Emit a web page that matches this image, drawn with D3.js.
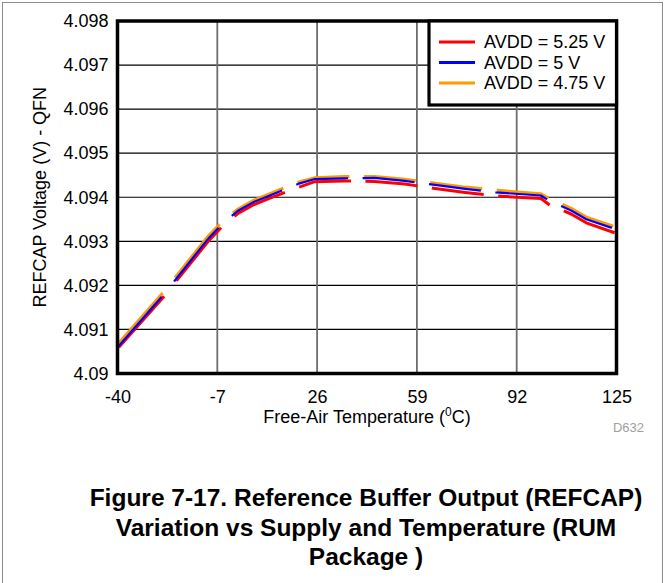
<!DOCTYPE html>
<html>
<head>
<meta charset="utf-8">
<script src="https://cdn.jsdelivr.net/npm/d3@7/dist/d3.min.js"></script>
<style>
  html, body { margin: 0; padding: 0; background: #fff; }
  svg { display: block; }
  text { font-family: "Liberation Sans", Arial, Helvetica, sans-serif; }
</style>
</head>
<body>
<svg id="chart" width="665" height="583"></svg>
<script>
// ---- data ----
const temps = [-40, -25, -10, -5, 0, 5, 10, 15, 20, 25, 35, 45, 55, 65, 75, 85, 100, 103, 110, 115, 125];
const avdd525 = [4.09056, 4.09172, 4.09300, 4.09336, 4.09364, 4.09383, 4.09397, 4.09410, 4.09423, 4.09435, 4.09437, 4.09436, 4.09430, 4.09420, 4.09411, 4.09403, 4.09397, 4.09382, 4.09362, 4.09342, 4.09318];
const avdd500 = [4.09059, 4.09177, 4.09306, 4.09342, 4.09370, 4.09389, 4.09403, 4.09417, 4.09431, 4.09441, 4.09443, 4.09444, 4.09437, 4.09428, 4.09419, 4.09411, 4.09404, 4.09391, 4.09370, 4.09350, 4.09327];
const avdd475 = [4.09066, 4.09183, 4.09312, 4.09347, 4.09374, 4.09393, 4.09407, 4.09421, 4.09435, 4.09444, 4.09447, 4.09447, 4.09441, 4.09432, 4.09423, 4.09416, 4.09408, 4.09396, 4.09375, 4.09355, 4.09332];
const seriesNames = ["AVDD = 5.25 V", "AVDD = 5 V", "AVDD = 4.75 V"];
const seriesColors = ["#ff0000", "#0000ff", "#ff9900"];
const xTicks = [-40, -7, 26, 59, 92, 125];
const xTickLabels = ["-40", "-7", "26", "59", "92", "125"];
const yTicks = [4.090, 4.091, 4.092, 4.093, 4.094, 4.095, 4.096, 4.097, 4.098];
const yTickLabels = ["4.09", "4.091", "4.092", "4.093", "4.094", "4.095", "4.096", "4.097", "4.098"];
const xTitle = "Free-Air Temperature (";
const yTitle = "REFCAP Voltage (V) - QFN";
const captionLines = ["Figure 7-17. Reference Buffer Output (REFCAP)", "Variation vs Supply and Temperature (RUM", "Package )"];
const figId = "D632";

// ---- layout ----
const L = 117.5, R = 616.5, T = 21, B = 373.5;
const svg = d3.select("#chart");
const x = d3.scaleLinear().domain([-40, 125]).range([L, R]);
const y = d3.scaleLinear().domain([4.090, 4.098]).range([B, T]);

// outer frame
svg.append("rect").attr("x", 2.5).attr("y", 2.5).attr("width", 660).attr("height", 640)
  .attr("fill", "none").attr("stroke", "#8c8c8c").attr("stroke-width", 1);

// gridlines
svg.append("g").selectAll("line").data(yTicks).join("line")
  .attr("x1", L).attr("x2", R).attr("y1", d => y(d)).attr("y2", d => y(d))
  .attr("stroke", "#000").attr("stroke-width", 1.2);
svg.append("g").selectAll("line").data(xTicks).join("line")
  .attr("y1", T).attr("y2", B).attr("x1", d => x(d)).attr("x2", d => x(d))
  .attr("stroke", "#6e6e6e").attr("stroke-width", 1.8);

// axes (labels only)
const yAxis = d3.axisLeft(y).tickValues(yTicks).tickSize(0).tickPadding(9)
  .tickFormat((d, i) => yTickLabels[i]);
const gy = svg.append("g").attr("transform", `translate(${L},0)`).call(yAxis);
gy.select(".domain").remove();
gy.selectAll("text").attr("font-size", 18).attr("fill", "#000")
  .style("font-family", '"Liberation Sans", Arial, sans-serif');

const xAxis = d3.axisBottom(x).tickValues(xTicks).tickSize(0).tickPadding(17)
  .tickFormat((d, i) => xTickLabels[i]);
const gx = svg.append("g").attr("transform", `translate(0,${B})`).call(xAxis);
gx.select(".domain").remove();
gx.selectAll("text").attr("font-size", 18).attr("fill", "#000")
  .style("font-family", '"Liberation Sans", Arial, sans-serif');

// ---- dashed series ----
function dashify(pts, dash, gap, k, phase) {
  const out = [];
  const period = dash + gap;
  let pos = ((phase % period) + period) % period;
  let cur = null;
  for (let i = 0; i < pts.length - 1; i++) {
    const p0 = pts[i], p1 = pts[i + 1];
    const dx = p1[0] - p0[0], dy = p1[1] - p0[1];
    const len = Math.sqrt(dx * dx + k * k * dy * dy);
    let t = 0;
    if (len === 0) continue;
    while (t < len - 1e-9) {
      const inDash = pos < dash;
      const remain = (inDash ? dash : period) - pos;
      const step = Math.max(1e-6, Math.min(remain, len - t));
      const a = [p0[0] + dx * t / len, p0[1] + dy * t / len];
      const b = [p0[0] + dx * (t + step) / len, p0[1] + dy * (t + step) / len];
      if (inDash) {
        if (!cur) { cur = [a]; out.push(cur); }
        cur.push(b);
      } else {
        cur = null;
      }
      t += step; pos += step;
      if (pos >= period - 1e-9) pos -= period;
    }
  }
  return out;
}

const allSeries = [avdd525, avdd500, avdd475];
const widths = [3, 2.2, 3];
const phases = [-1.5, 1, 0];
const drawOrder = [0, 2, 1];
const lineGen = d3.line();
const plotG = svg.append("g");
drawOrder.forEach(si => {
  const pts = temps.map((t, i) => [x(t), y(allSeries[si][i])]);
  const dashes = dashify(pts, 52, 14.5, 0.5, phases[si]);
  plotG.append("g").selectAll("path").data(dashes).join("path")
    .attr("d", d => lineGen(d))
    .attr("fill", "none").attr("stroke", seriesColors[si])
    .attr("stroke-width", widths[si]).attr("stroke-linejoin", "round");
});

// plot frame
svg.append("rect").attr("x", L).attr("y", T).attr("width", R - L).attr("height", B - T)
  .attr("fill", "none").attr("stroke", "#000").attr("stroke-width", 3.5);

// legend
const lg = svg.append("g");
lg.append("rect").attr("x", 429).attr("y", 21).attr("width", R - 429).attr("height", 84)
  .attr("fill", "#fff").attr("stroke", "#000").attr("stroke-width", 3.2);
seriesNames.forEach((name, i) => {
  const yy = 42 + i * 20.5;
  lg.append("line").attr("x1", 439).attr("x2", 475).attr("y1", yy).attr("y2", yy)
    .attr("stroke", seriesColors[i]).attr("stroke-width", 3);
  lg.append("text").attr("x", 484).attr("y", yy).attr("dy", "0.35em")
    .attr("font-size", 18).attr("fill", "#000").text(name);
});

// axis titles
const xt = svg.append("text").attr("x", (L + R) / 2).attr("y", 423).attr("text-anchor", "middle")
  .attr("font-size", 18).attr("fill", "#000");
xt.append("tspan").text(xTitle);
xt.append("tspan").attr("font-size", 12).attr("dy", -7).text("0");
xt.append("tspan").attr("dy", 7).text("C)");

svg.append("text").attr("transform", `translate(46,${(T + B) / 2}) rotate(-90)`)
  .attr("text-anchor", "middle").attr("font-size", 18).attr("fill", "#000").text(yTitle);

svg.append("text").attr("x", 644).attr("y", 431.5).attr("text-anchor", "end")
  .attr("font-size", 13).attr("fill", "#a0a0a0").text(figId);

// caption
captionLines.forEach((line, i) => {
  svg.append("text").attr("x", 366).attr("y", 506 + i * 29.5).attr("text-anchor", "middle")
    .attr("font-size", 24.5).attr("font-weight", "bold").attr("fill", "#000").text(line);
});
</script>
</body>
</html>
